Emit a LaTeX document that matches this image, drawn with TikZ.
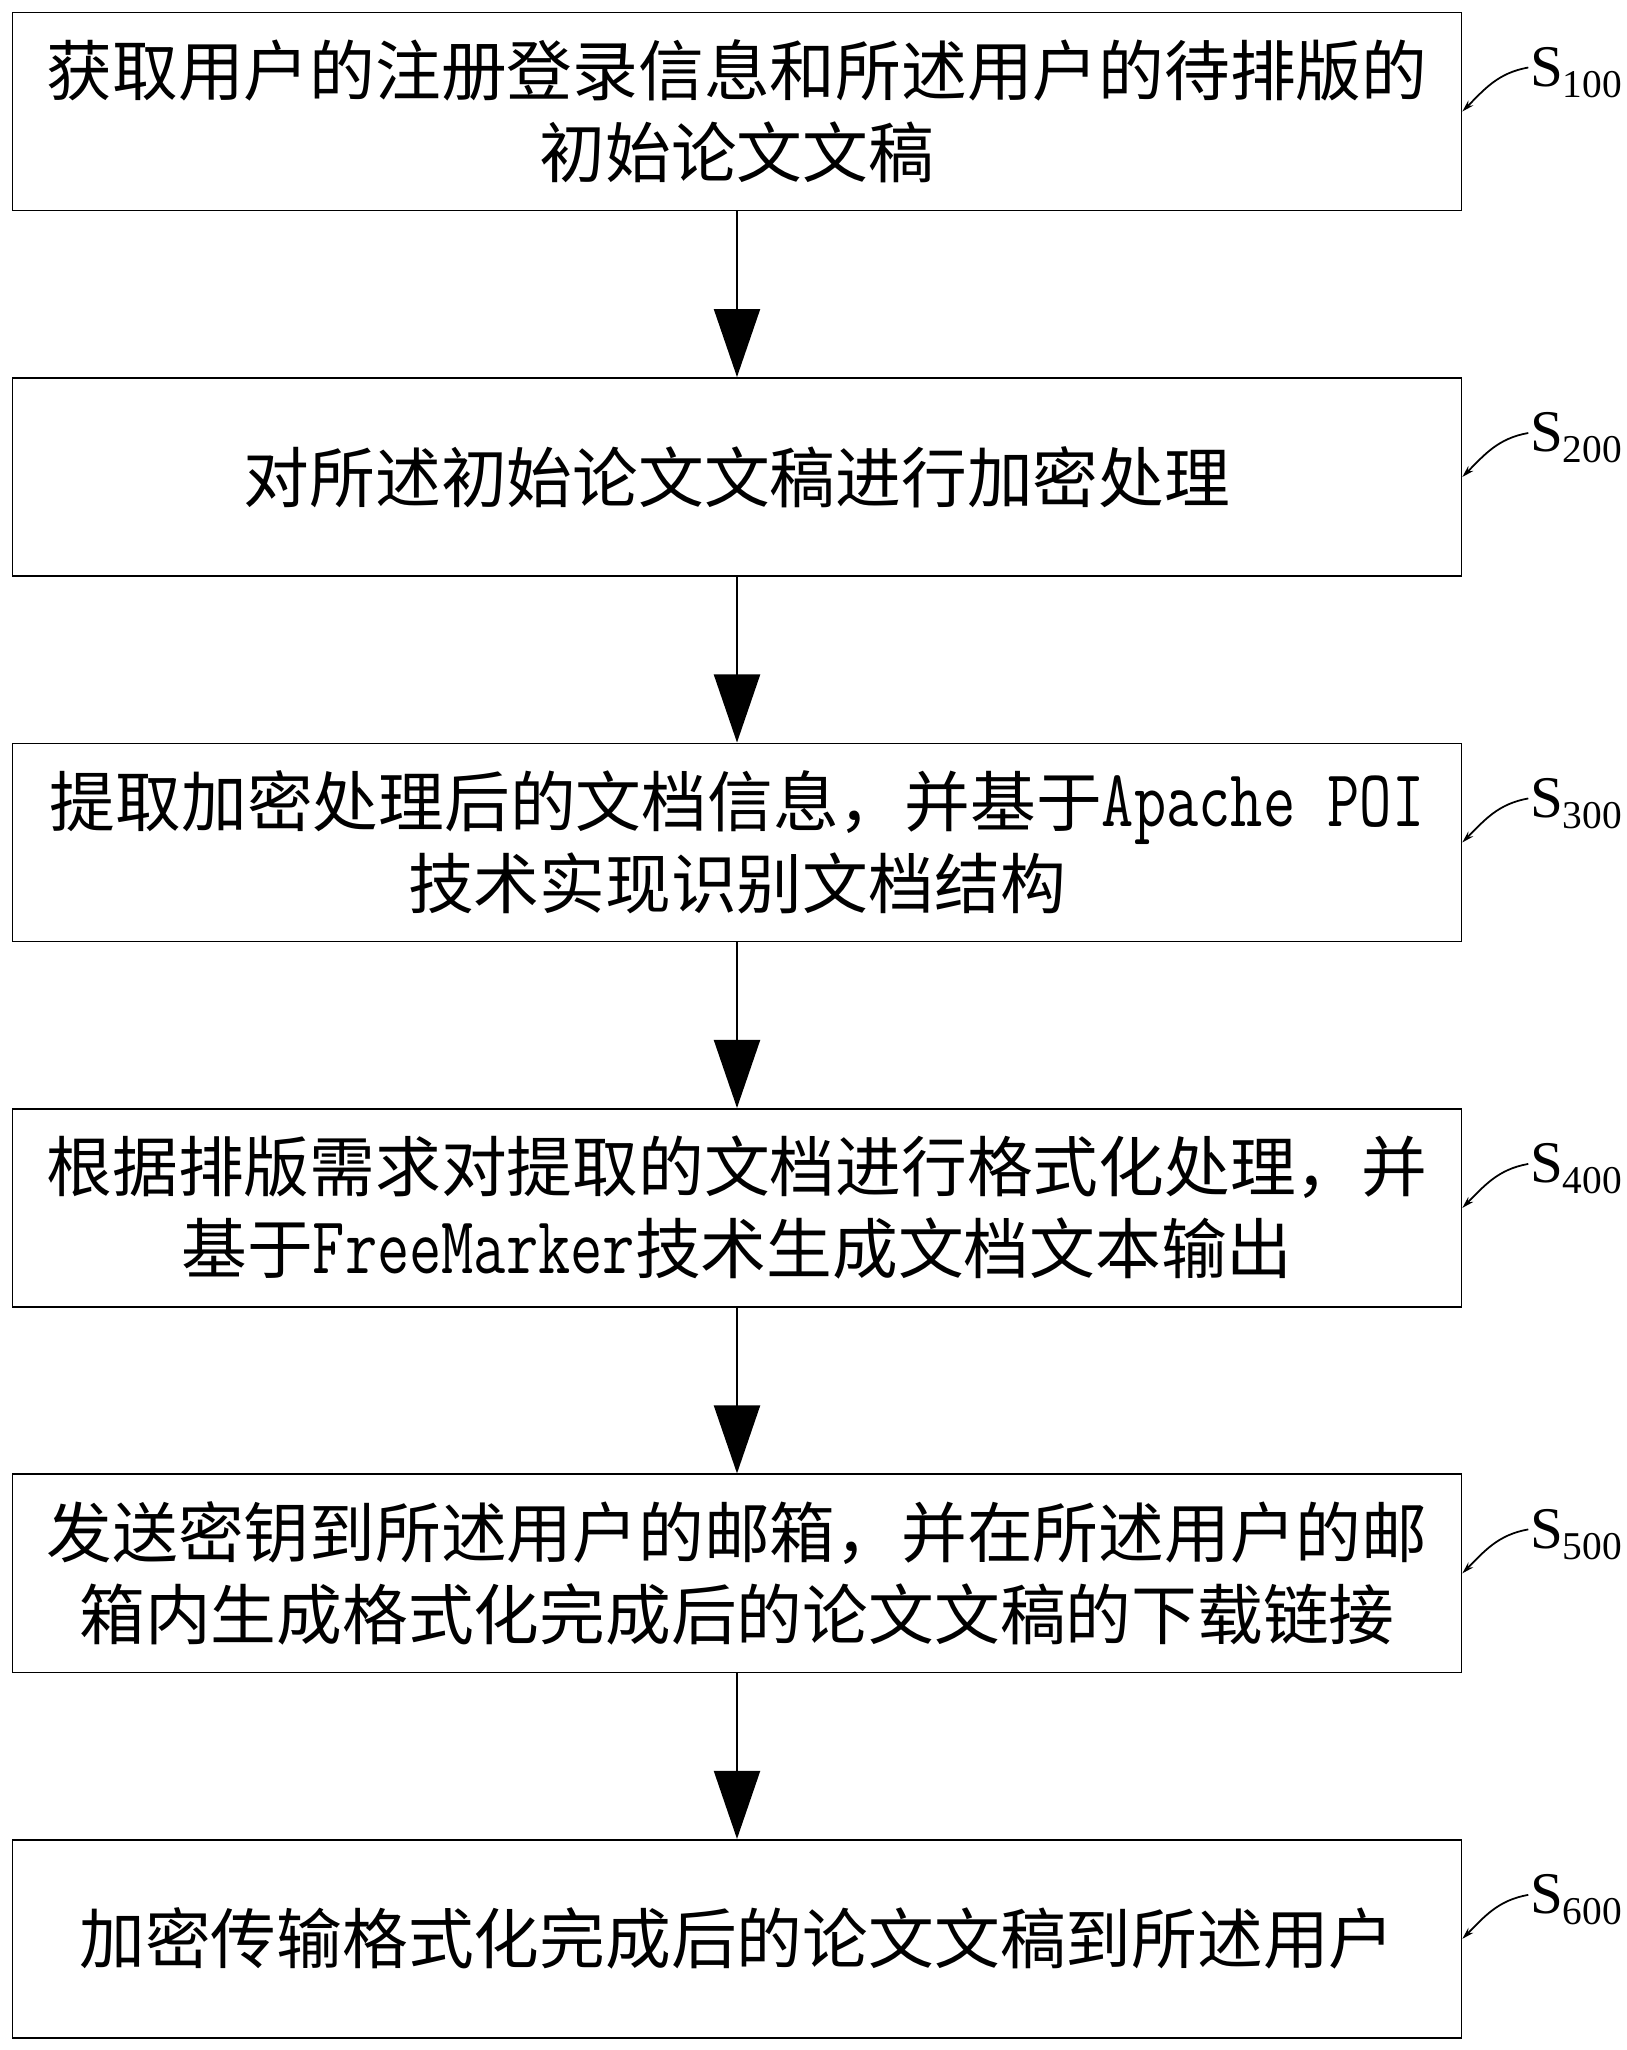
\documentclass[tikz,border=0pt]{standalone}
\usepackage{fontspec}
\setmainfont{Liberation Serif}
\newfontfamily\cjkfont{Noto Sans CJK SC}
\usepackage{graphicx}
\usetikzlibrary{arrows.meta, positioning, calc}
\newcommand{\lat}[1]{\scalebox{1}[1.3]{\fontsize{17.8pt}{20pt}\ttfamily #1}}
\newcommand{\steplabel}[1]{S\raisebox{-0.11cm}{\fontsize{11.2pt}{12pt}\selectfont #1}}

\begin{document}
\begin{tikzpicture}[x=0.01cm, y=0.01cm,
  node distance=1.655cm,
  box/.style={rectangle, draw, line width=0.5pt,
              minimum width=14.48cm, minimum height=1.98cm, inner sep=0pt,
              align=center, font=\cjkfont\fontsize{18.7pt}{23.3pt}\selectfont},
  arr/.style={-{Triangle[length=0.68cm, width=0.46cm]}, line width=0.6pt},
  lead/.style={-{Stealth[length=0.12cm, width=0.07cm]}, line width=0.5pt},
  lbl/.style={inner sep=0pt, font=\fontsize{16.8pt}{18pt}\selectfont},
]
  \useasboundingbox (0,0) rectangle (1626,-2050);

  % Steps
  \node[box] (b1) at (737,-111.5) {获取用户的注册登录信息和所述用户的待排版的\\初始论文文稿};
  \node[box, below=of b1] (b2) {对所述初始论文文稿进行加密处理};
  \node[box, below=of b2] (b3) {提取加密处理后的文档信息，并基于\lat{Apache POI}\\技术实现识别文档结构};
  \node[box, below=of b3] (b4) {根据排版需求对提取的文档进行格式化处理，并\\基于\lat{FreeMarker}技术生成文档文本输出};
  \node[box, below=of b4] (b5) {发送密钥到所述用户的邮箱，并在所述用户的邮\\箱内生成格式化完成后的论文文稿的下载链接};
  \node[box, below=of b5] (b6) {加密传输格式化完成后的论文文稿到所述用户};

  % Flow
  \foreach \a/\b in {b1/b2, b2/b3, b3/b4, b4/b5, b5/b6}
    \draw[arr] (\a) -- (\b);

  % Step labels
  \foreach \n/\s in {1/100, 2/200, 3/300, 4/400, 5/500, 6/600} {
    \coordinate (c\n) at ($(b\n.east)+(66,44)$);
    \node[lbl, anchor=base west] (s\n) at ($(c\n)+(1,-19)$) {\steplabel{\s}};
    \draw[lead] (c\n) to[out=190, in=45] (b\n.east);
  }
\end{tikzpicture}
\end{document}
